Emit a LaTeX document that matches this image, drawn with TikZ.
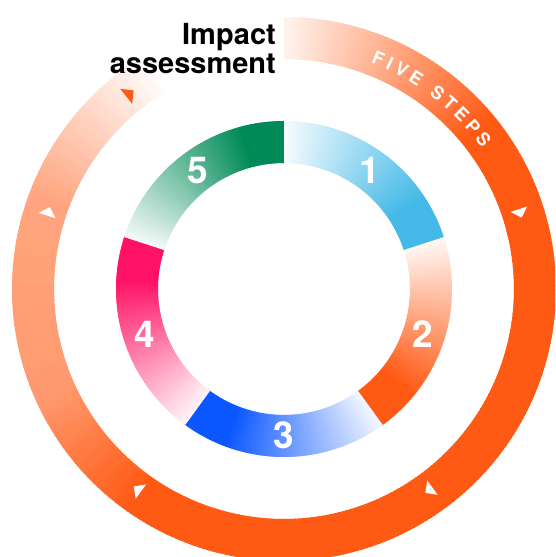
\documentclass[tikz,border=0pt]{standalone}
\usepackage{fontspec}
\setmainfont{TeX Gyre Heros}
\definecolor{c1}{HTML}{44B9E7}
\definecolor{c2}{HTML}{FF5A14}
\definecolor{c3}{HTML}{0A56FF}
\definecolor{c4}{HTML}{FF1265}
\definecolor{c5}{HTML}{008A58}
\definecolor{orng}{HTML}{FF5A14}
\begin{document}
\begin{tikzpicture}[x=1pt,y=1pt,
  numlbl/.style={text=white,font=\bfseries\fontsize{37}{37}\selectfont,inner sep=0pt},
  ringlbl/.style={text=white,font=\bfseries\fontsize{18}{18}\selectfont,inner sep=0pt},
  titlelbl/.style={text=black,font=\bfseries\fontsize{29}{29}\selectfont,inner sep=0pt,anchor=base east},
  tri/.style={fill=white}]
\fill[white] (-284,-268) rectangle (271,289);
\useasboundingbox (-284,-268) rectangle (271,289);
\clip (-284,-268) rectangle (271,289);

% outer ring
\foreach \s in {0,...,331}{
  \pgfmathsetmacro\a{90-\s}
  \pgfmathsetmacro\b{88.4-\s}
  \pgfmathtruncatemacro\p{(\s<50) ? (8+1.84*\s) : ((\s<215) ? 100 : ((\s<245) ? (100-1.2667*(\s-215)) : ((\s<290) ? (62-0.1556*(\s-245)) : max(0,55-1.375*(\s-290)))))}
  \fill[orng!\p!white] (\a:230) -- (\a:272) -- (\b:272) -- (\b:230) -- cycle;
}

% inner segments
\foreach \k/\col in {1/c1,2/c2,3/c3,4/c4,5/c5}{
  \foreach \j in {0,...,71}{
    \pgfmathsetmacro\a{90-72*(\k-1)-\j}
    \pgfmathsetmacro\b{\a-1-((\k*100+\j==571) ? 0 : 0.6)}
    \pgfmathtruncatemacro\p{min(100,5+1.6667*(\j+0.5))}
    \fill[\col!\p!white] (\a:126) -- (\a:168) -- (\b:168) -- (\b:126) -- cycle;
  }
}

% numbers
\foreach \n/\ang in {1/54,2/-18,3/-90,4/198,5/126}
  \node[numlbl] (num\n) at (\ang:146) {\n};

% ring label
\foreach \c/\ang [count=\i] in {F/67.7,I/64.79,V/61.77,E/57.94,S/51.9,T/48.18,E/44.47,P/40.64,S/36.81}
  \node[ringlbl, rotate=\ang-90] (fs\i) at (\ang:249) {\c};

% arrowheads
\foreach \ang in {18,-54,-126,162}
  \fill[tri, shift={(\ang:248)}, rotate=\ang-90, scale=1.1] (5,0) -- (-3,8) -- (-3,-8) -- cycle;
\fill[orng, shift={(128.5:249)}, rotate=38.5, scale=1.2] (5,0) -- (-3,8) -- (-3,-8) -- cycle;

% title
\node[titlelbl] (imp) at (-8,244) {Impact};
\node[titlelbl] (ass) at (-8,215) {assessment};
\end{tikzpicture}
\end{document}
